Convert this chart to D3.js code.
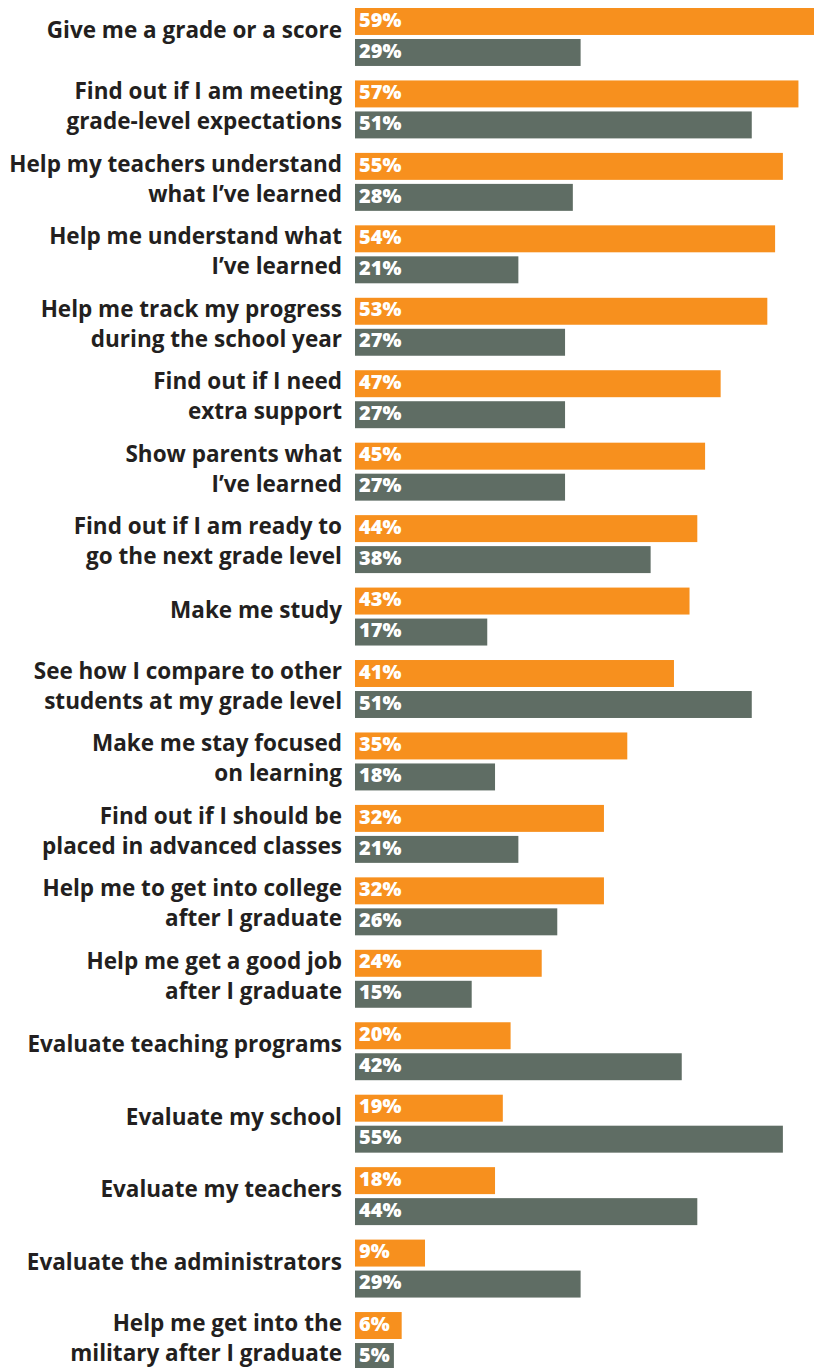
<!DOCTYPE html>
<html>
<head>
<meta charset="utf-8">
<script src="https://cdn.jsdelivr.net/npm/d3@7"></script>
<style>
  html, body { margin: 0; padding: 0; background: #ffffff; }
  svg { display: block; }
</style>
</head>
<body>
<div id="chart"></div>
<script>
// Reasons for assessments: two groups compared per purpose
const categories = [
  ["Give me a grade or a score"],
  ["Find out if I am meeting", "grade-level expectations"],
  ["Help my teachers understand", "what I’ve learned"],
  ["Help me understand what", "I’ve learned"],
  ["Help me track my progress", "during the school year"],
  ["Find out if I need", "extra support"],
  ["Show parents what", "I’ve learned"],
  ["Find out if I am ready to", "go the next grade level"],
  ["Make me study"],
  ["See how I compare to other", "students at my grade level"],
  ["Make me stay focused", "on learning"],
  ["Find out if I should be", "placed in advanced classes"],
  ["Help me to get into college", "after I graduate"],
  ["Help me get a good job", "after I graduate"],
  ["Evaluate teaching programs"],
  ["Evaluate my school"],
  ["Evaluate my teachers"],
  ["Evaluate the administrators"],
  ["Help me get into the", "military after I graduate"]
];

const seriesOrange = [59, 57, 55, 54, 53, 47, 45, 44, 43, 41, 35, 32, 32, 24, 20, 19, 18, 9, 6];
const seriesGray   = [29, 51, 28, 21, 27, 27, 27, 38, 17, 51, 18, 21, 26, 15, 42, 55, 44, 29, 5];

const seriesKeys = ["orange", "gray"];
const seriesColors = { orange: "#F7901E", gray: "#5F6D64" };

const width = 821, height = 1368;
const barLeft = 355;
const fontFamily = "'Open Sans', Lato, sans-serif";

const svg = d3.select("#chart").append("svg")
  .attr("width", width)
  .attr("height", height);

const x = d3.scaleLinear().domain([0, 59]).range([barLeft, 814]);

const y = d3.scaleBand()
  .domain(d3.range(categories.length))
  .range([8, 1370])
  .paddingInner(0.2)
  .paddingOuter(0);

const ySub = d3.scaleBand()
  .domain(seriesKeys)
  .range([0, y.bandwidth()])
  .paddingInner(0.13);

const rows = categories.map((lines, i) => ({
  i, lines,
  values: [
    { key: "orange", value: seriesOrange[i] },
    { key: "gray", value: seriesGray[i] }
  ]
}));

const group = svg.selectAll("g.row")
  .data(rows)
  .join("g")
  .attr("class", "row")
  .attr("transform", d => `translate(0,${y(d.i)})`);

// bars
group.selectAll("rect")
  .data(d => d.values)
  .join("rect")
  .attr("x", x(0))
  .attr("y", d => ySub(d.key))
  .attr("width", d => x(d.value) - x(0))
  .attr("height", ySub.bandwidth())
  .attr("fill", d => seriesColors[d.key]);

// value labels inside bars
group.selectAll("text.val")
  .data(d => d.values)
  .join("text")
  .attr("class", "val")
  .attr("x", x(0) + 4)
  .attr("y", d => ySub(d.key) + ySub.bandwidth() / 2 - 2)
  .attr("dy", "0.36em")
  .attr("fill", "#ffffff")
  .attr("font-family", fontFamily)
  .attr("font-weight", 800)
  .attr("font-size", 20)
  .text(d => d.value + "%");

// category labels, right-aligned against the bars
const lineShift = [5.5, 4.5];
group.each(function(d) {
  const g = d3.select(this);
  const t = g.append("text")
    .attr("text-anchor", "end")
    .attr("fill", "#231F20")
    .attr("font-family", fontFamily)
    .attr("font-weight", 700)
    .attr("font-size", 22.5);
  if (d.lines.length === 1) {
    t.append("tspan")
      .attr("x", 342)
      .attr("y", y.bandwidth() / 2 + 1)
      .text(d.lines[0]);
  } else {
    d.lines.forEach((line, k) => {
      const key = seriesKeys[k];
      t.append("tspan")
        .attr("x", 342)
        .attr("y", ySub(key) + ySub.bandwidth() / 2 + lineShift[k])
        .text(line);
    });
  }
});
</script>
</body>
</html>
